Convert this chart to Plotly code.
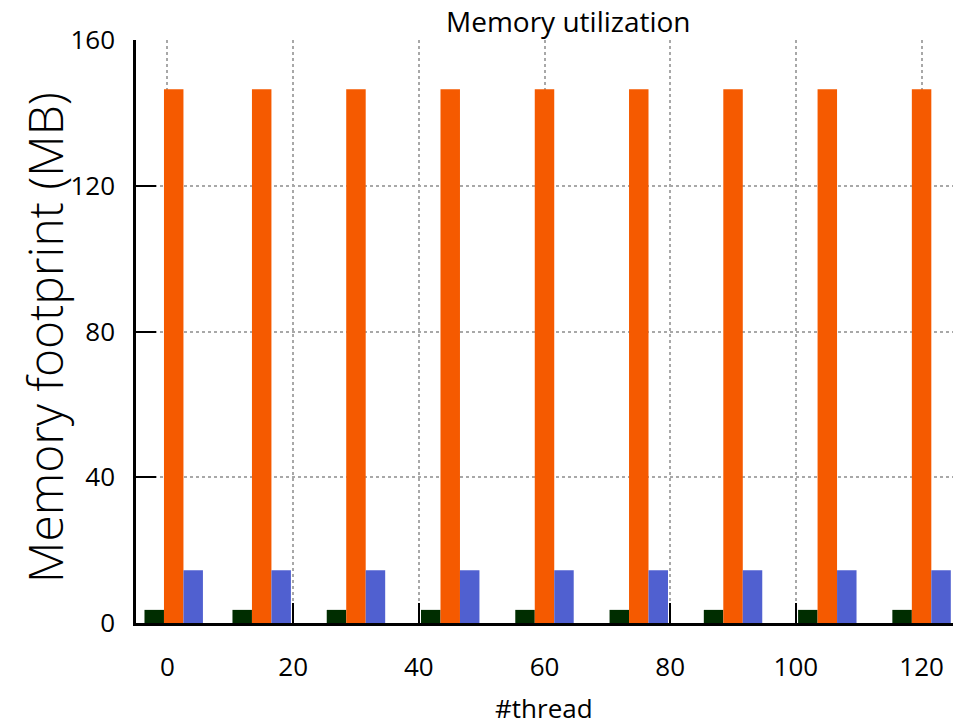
import plotly.graph_objects as go

threads = [1, 15, 30, 45, 60, 75, 90, 105, 120]
series_a = [3.6] * 9      # dark green
series_b = [146.5] * 9    # orange
series_c = [14.5] * 9     # blue
x_ticks = [0, 20, 40, 60, 80, 100, 120]
y_ticks = [0, 40, 80, 120, 160]

FONT = "Open Sans"
BW = 3.1
W, H = 966, 726
OFF = 8  # page body margin
L, R, T, B = 136 - OFF, 13 + OFF, 40 - OFF, 103 + OFF
PW, PH = W - L - R, H - T - B

def px(x):
    return (x - OFF - L) / PW

def py(y):
    return 1 - (y - OFF - T) / PH

fig = go.Figure()
for vals, col, off in [(series_a, "#002d00", -1.5 * BW),
                       (series_b, "#f55a00", -0.5 * BW),
                       (series_c, "#5060d0", 0.5 * BW)]:
    fig.add_trace(go.Bar(x=threads, y=vals, width=BW, offset=off,
                         marker=dict(color=col, line=dict(width=0)),
                         showlegend=False))

fig.update_layout(
    width=W, height=H,
    barmode="overlay",
    paper_bgcolor="white", plot_bgcolor="white",
    margin=dict(l=L, r=R, t=T, b=B, autoexpand=False),
    font=dict(family=FONT, color="black", size=26),
    annotations=[
        dict(text="Memory utilization", xref="paper", yref="paper",
             x=px(568), y=py(21), xanchor="center", yanchor="middle",
             showarrow=False, font=dict(family=FONT, size=28, color="black")),
        dict(text="#thread", xref="paper", yref="paper",
             x=px(544), y=py(708), xanchor="center", yanchor="middle",
             showarrow=False, font=dict(family=FONT, size=26, color="black")),
        dict(text="Memory footprint (MB)", xref="paper", yref="paper",
             x=px(44), y=py(338), xanchor="center", yanchor="middle",
             showarrow=False, textangle=-90,
             font=dict(family=FONT, size=48, weight=300, color="black")),
    ],
)
fig.update_xaxes(
    range=[-5, 125], tickvals=x_ticks, ticktext=[str(v) for v in x_ticks],
    ticks="inside", ticklen=20, tickwidth=2, tickcolor="black",
    showline=True, linecolor="black", linewidth=2.5, mirror=False,
    showgrid=True, gridcolor="#a8a8a8", griddash="dot", gridwidth=1.5,
    zeroline=False, layer="below traces", automargin=False,
    ticklabelstandoff=19,
    tickfont=dict(family=FONT, size=26),
)
fig.update_yaxes(
    range=[0, 160], tickvals=y_ticks, ticktext=[str(v) for v in y_ticks],
    ticks="inside", ticklen=20, tickwidth=2, tickcolor="black",
    showline=True, linecolor="black", linewidth=2.5, mirror=False,
    showgrid=True, gridcolor="#a8a8a8", griddash="dot", gridwidth=1.5,
    zeroline=False, layer="below traces", automargin=False,
    ticklabelstandoff=13,
    tickfont=dict(family=FONT, size=26),
)

fig.write_html("out.html")
